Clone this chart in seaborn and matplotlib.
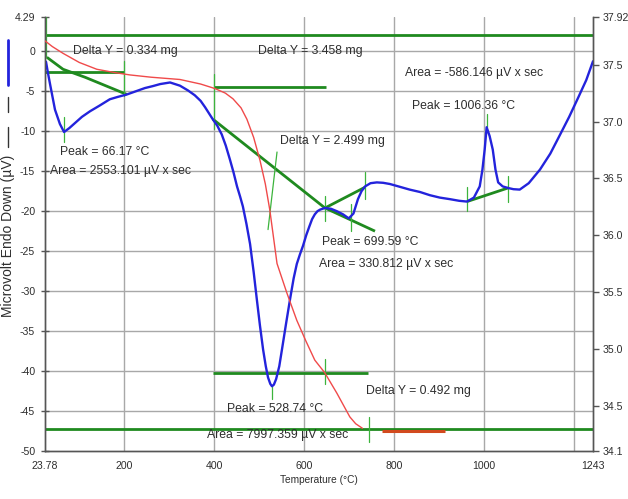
import matplotlib
matplotlib.use("Agg")
import matplotlib.pyplot as plt
import seaborn as sns
from matplotlib import font_manager
from matplotlib.lines import Line2D

# ---------------- data ----------------
dta_temp = [26, 30, 35, 46, 57, 66.17, 78, 90, 106, 124, 145, 168, 186, 206, 226,
            246, 264, 280, 302, 324, 342, 357, 370, 380, 397, 407, 417, 426, 435,
            443, 451, 458, 464, 472, 480, 488, 495, 502, 509, 515, 520, 525,
            528.74, 533, 538, 545, 551, 560, 569, 577, 584, 591, 598, 605, 612,
            618, 624, 630, 636, 646.7, 660, 673, 687, 699.59, 710, 720, 728, 736,
            748, 762, 776, 791, 810, 835, 858, 880, 902, 925, 945, 962.6, 978, 991,
            997, 1002, 1006.36, 1013, 1020, 1026, 1032, 1042, 1054, 1066, 1080,
            1100, 1125, 1148, 1170, 1190, 1210, 1228, 1243]
dta_uv = [-1.3, -2.6, -4.1, -7.3, -9.1, -10.1, -9.6, -9.0, -8.2, -7.5, -6.8, -6.0,
          -5.7, -5.4, -5.0, -4.6, -4.35, -4.1, -3.9, -4.3, -4.9, -5.5, -6.2, -7.0,
          -8.5, -9.3, -10.4, -11.8, -13.5, -15.1, -16.9, -18.2, -19.4, -21.6,
          -24.1, -27.6, -31.0, -34.3, -37.3, -39.4, -40.8, -41.6, -41.9, -41.7,
          -41.0, -39.4, -37.3, -34.1, -31.0, -28.4, -26.6, -25.4, -24.3, -23.0,
          -21.9, -21.0, -20.4, -20.0, -19.8, -19.6, -19.7, -20.0, -20.4, -20.9,
          -20.3, -18.5, -17.5, -16.9, -16.5, -16.4, -16.45, -16.6, -16.9, -17.3,
          -17.6, -18.0, -18.3, -18.5, -18.7, -18.8, -18.3, -16.9, -14.8, -12.3,
          -9.5, -10.6, -12.3, -14.8, -16.4, -16.9, -17.1, -17.25, -17.3, -16.5,
          -14.8, -12.8, -10.4, -8.2, -5.8, -3.6, -1.25]

tg_temp = [23.78, 40, 64, 100, 139, 180, 213, 260, 324, 370, 402, 425, 442, 460,
           473, 488, 502, 514, 524, 540, 562, 584, 604, 624, 646, 673, 702, 715,
           730]
tg_mg = [37.71, 37.66, 37.60, 37.52, 37.46, 37.43, 37.41, 37.39, 37.37, 37.33,
         37.29, 37.25, 37.20, 37.12, 37.02, 36.86, 36.66, 36.45, 36.22, 35.75,
         35.49, 35.25, 35.07, 34.90, 34.79, 34.61, 34.40, 34.34, 34.30]
tg_seg_temp = [774, 914]
tg_seg_mg = [34.28, 34.28]

# analysis (baseline) lines in µV coordinates
base_lines = [
    ([23.78, 1243], [2.0, 2.0]),
    ([23.78, 200], [-2.6, -2.6]),
    ([28, 64, 113, 206], [-0.75, -2.25, -3.25, -5.4]),
    ([400, 650], [-4.5, -4.5]),
    ([397.5, 646.7, 758], [-8.5, -19.6, -22.5]),
    ([646.7, 736], [-19.6, -17.0]),
    ([962.6, 1053.8], [-18.8, -17.1]),
    ([397.5, 742], [-40.2, -40.2]),
    ([23.78, 1243], [-47.3, -47.3]),
]
marker_lines = [
    ([26, 26], [4.29, -0.75]),
    ([200, 200], [-1.25, -5.6]),
    ([66.17, 66.17], [-8.25, -11.4]),
    ([400, 400], [-2.9, -9.75]),
    ([540, 520], [-12.6, -22.3]),
    ([646.7, 646.7], [-18.1, -21.25]),
    ([704, 704], [-19.1, -22.5]),
    ([736, 736], [-15.1, -18.5]),
    ([962.6, 962.6], [-17.0, -20.0]),
    ([1053.8, 1053.8], [-15.6, -18.8]),
    ([1006.36, 1006.36], [-7.9, -9.5]),
    ([646, 646], [-38.5, -41.6]),
    ([528.74, 528.74], [-41.8, -43.5]),
    ([744, 744], [-45.7, -48.9]),
]
labels = [
    (86, 0.0, "Delta Y = 0.334 mg"),
    (497.6, 0.0, "Delta Y = 3.458 mg"),
    (824.7, -2.75, "Area = -586.146 µV x sec"),
    (840, -6.9, "Peak = 1006.36 °C"),
    (546.6, -11.25, "Delta Y = 2.499 mg"),
    (57.1, -12.6, "Peak = 66.17 °C"),
    (34.9, -15.0, "Area = 2553.101 µV x sec"),
    (640, -23.9, "Peak = 699.59 °C"),
    (632.4, -26.6, "Area = 330.812 µV x sec"),
    (738, -42.5, "Delta Y = 0.492 mg"),
    (428.7, -44.8, "Peak = 528.74 °C"),
    (384, -48.0, "Area = 7997.359 µV x sec"),
]

x_ticks = [23.78, 200, 400, 600, 800, 1000, 1200, 1243]
x_ticklabels = ["23.78", "200", "400", "600", "800", "1000", "", "1243"]
y_ticks = [4.29, 0, -5, -10, -15, -20, -25, -30, -35, -40, -45, -50]
y_ticklabels = ["4.29", "0", "-5", "-10", "-15", "-20", "-25", "-30", "-35",
                "-40", "-45", "-50"]
y2_ticks = [34.1, 34.5, 35.0, 35.5, 36.0, 36.5, 37.0, 37.5, 37.92]
y2_ticklabels = ["34.1", "34.5", "35.0", "35.5", "36.0", "36.5", "37.0", "37.5",
                 "37.92"]

# ---------------- style ----------------
sns.set_style("white")
names = {f.name for f in font_manager.fontManager.ttflist}
if "Liberation Sans Narrow" in names:
    fam = "Liberation Sans Narrow"
    k = 1.0
else:
    fam = "Liberation Sans"
    k = 0.84
plt.rcParams["font.family"] = [fam, "DejaVu Sans"]

ann_fs = 10.5 * k
tick_fs = 9.0 * k
lab_fs = 8.7 * k
txt_col = "#2e2e2e"

fig = plt.figure(figsize=(6.28, 4.99), dpi=100)
ax = fig.add_axes([45 / 628, 1 - 451 / 499, (593 - 45) / 628, (451 - 17) / 499])
ax2 = ax.twinx()

ax.set_xlim(23.78, 1243)
ax.set_ylim(-50, 4.29)
ax2.set_ylim(34.1, 37.92)

# grid
for t in [200, 400, 600, 800, 1000, 1200]:
    ax.axvline(t, color="#a8a8a8", lw=1.0, zorder=0)
for v in [-45, -40, -35, -30, -25, -20, -15, -10, -5, 0]:
    ax.axhline(v, color="#a8a8a8", lw=1.0, zorder=0)

green_dark = "#1f8a1f"
green_light = "#3cb43c"
for xs, ys in base_lines:
    ax.plot(xs, ys, color=green_dark, lw=2.0, zorder=2, solid_capstyle="butt")
for xs, ys in marker_lines:
    ax.plot(xs, ys, color=green_light, lw=0.9, zorder=2)

sns.lineplot(x=dta_temp, y=dta_uv, ax=ax, color="#2323dc", lw=1.7,
             sort=False, estimator=None, zorder=3)
sns.lineplot(x=tg_temp, y=tg_mg, ax=ax2, color="#f04a4a", lw=1.0,
             sort=False, estimator=None, zorder=3)
ax2.plot(tg_seg_temp, tg_seg_mg, color="#d24a1e", lw=2.2, solid_capstyle="butt")

for tx, ty, s in labels:
    ax.text(tx, ty, s, fontsize=ann_fs, color=txt_col, ha="left", va="center",
            zorder=4)

# axes formatting
ax.set_xticks(x_ticks)
ax.set_xticklabels(x_ticklabels, fontsize=tick_fs, color=txt_col)
ax.set_yticks(y_ticks)
ax.set_yticklabels(y_ticklabels, fontsize=tick_fs, color=txt_col)
ax2.set_yticks(y2_ticks)
ax2.set_yticklabels(y2_ticklabels, fontsize=tick_fs, color=txt_col)
ax.tick_params(axis="both", direction="inout", length=6, width=1,
               color="#555555", pad=4)
ax2.tick_params(axis="y", direction="out", length=4, width=1,
                color="#555555", pad=3)

for a in (ax, ax2):
    a.spines["top"].set_visible(False)
    for sp in ("left", "bottom", "right"):
        a.spines[sp].set_color("#555555")
        a.spines[sp].set_linewidth(1.0)
ax.set_ylabel("")
ax2.set_ylabel("")
ax.set_xlabel("Temperature (°C)", fontsize=lab_fs, color=txt_col, labelpad=3)

fig.text(8 / 628, 1 - 236 / 499, "Microvolt Endo Down (µV)", rotation=90,
         fontsize=10, family=["Liberation Sans", "DejaVu Sans"], color=txt_col,
         ha="center", va="center")
fig.add_artist(Line2D([8 / 628, 8 / 628], [1 - 40 / 499, 1 - 85 / 499],
                      transform=fig.transFigure, color="#2323dc", lw=2))
fig.add_artist(Line2D([8 / 628, 8 / 628], [1 - 97 / 499, 1 - 112 / 499],
                      transform=fig.transFigure, color="#333333", lw=1))
fig.add_artist(Line2D([8 / 628, 8 / 628], [1 - 127 / 499, 1 - 147 / 499],
                      transform=fig.transFigure, color="#333333", lw=1))

fig.savefig("out.png", dpi=100)
